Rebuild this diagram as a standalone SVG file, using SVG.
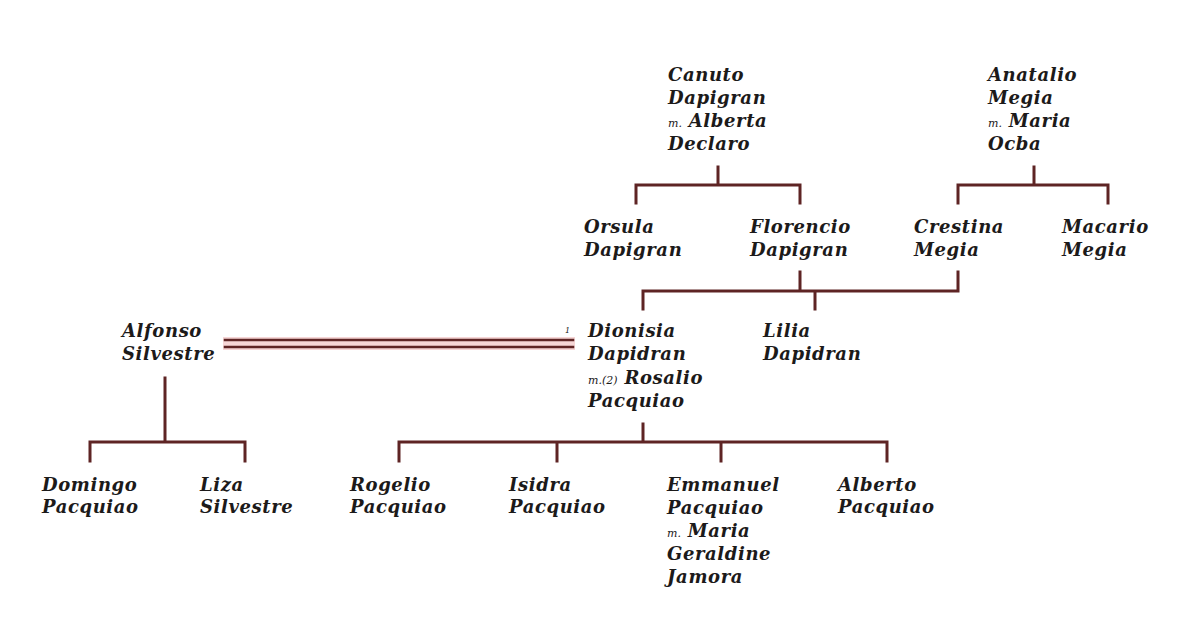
<svg xmlns="http://www.w3.org/2000/svg" width="1196" height="628" viewBox="0 0 1196 628">
<style>
.t{font-family:"DejaVu Serif","Liberation Serif",serif;font-style:italic;font-weight:bold;font-size:18px;letter-spacing:0.6px;fill:#1c1a1a}
.s{font-size:11px;font-weight:normal;letter-spacing:0}
.c{fill:none;stroke:#5e2424;stroke-width:3;stroke-linecap:square}
</style>
<rect width="1196" height="628" fill="#ffffff"/>
<g id="connectors">
<path class="c" d="M718,167V185M636,203V185H800V203"/>
<path class="c" d="M1034,167V185M958,203V185H1108V203"/>
<path class="c" d="M800,272V291M958,272V291M643,309V291H958M815,291V309"/>
<rect x="223" y="337" width="352" height="13" fill="#f6d6d6"/>
<path class="c" d="M225,340H573M225,347H573" style="stroke-width:2.5"/>
<path class="c" d="M165,378V442M90,461V442H245V461"/>
<path class="c" d="M643,424V442M399,461V442H887V461M557,442V461M721,442V461"/>
</g>
<g id="canuto"><text class="t" x="668" y="81">Canuto</text><text class="t" x="668" y="104">Dapigran</text><text class="t" x="668" y="127"><tspan class="s">m.</tspan> Alberta</text><text class="t" x="668" y="150">Declaro</text></g>
<g id="anatalio"><text class="t" x="988" y="81">Anatalio</text><text class="t" x="988" y="104">Megia</text><text class="t" x="988" y="127"><tspan class="s">m.</tspan> Maria</text><text class="t" x="988" y="150">Ocba</text></g>
<g id="orsula"><text class="t" x="584" y="233">Orsula</text><text class="t" x="584" y="256">Dapigran</text></g>
<g id="florencio"><text class="t" x="750" y="233">Florencio</text><text class="t" x="750" y="256">Dapigran</text></g>
<g id="crestina"><text class="t" x="914" y="233">Crestina</text><text class="t" x="914" y="256">Megia</text></g>
<g id="macario"><text class="t" x="1062" y="233">Macario</text><text class="t" x="1062" y="256">Megia</text></g>
<g id="alfonso"><text class="t" x="122" y="337">Alfonso</text><text class="t" x="122" y="360">Silvestre</text></g>
<g id="dionisia"><text class="t s" x="565" y="333" style="font-size:8px">1</text><text class="t" x="588" y="337">Dionisia</text><text class="t" x="588" y="360">Dapidran</text><text class="t" x="588" y="384"><tspan class="s">m.(2)</tspan> Rosalio</text><text class="t" x="588" y="407">Pacquiao</text></g>
<g id="lilia"><text class="t" x="763" y="337">Lilia</text><text class="t" x="763" y="360">Dapidran</text></g>
<g id="domingo"><text class="t" x="42" y="491">Domingo</text><text class="t" x="42" y="513">Pacquiao</text></g>
<g id="liza"><text class="t" x="200" y="491">Liza</text><text class="t" x="200" y="513">Silvestre</text></g>
<g id="rogelio"><text class="t" x="350" y="491">Rogelio</text><text class="t" x="350" y="513">Pacquiao</text></g>
<g id="isidra"><text class="t" x="509" y="491">Isidra</text><text class="t" x="509" y="513">Pacquiao</text></g>
<g id="emmanuel"><text class="t" x="667" y="491">Emmanuel</text><text class="t" x="667" y="514">Pacquiao</text><text class="t" x="667" y="537"><tspan class="s">m.</tspan> Maria</text><text class="t" x="667" y="560">Geraldine</text><text class="t" x="667" y="583">Jamora</text></g>
<g id="alberto"><text class="t" x="838" y="491">Alberto</text><text class="t" x="838" y="513">Pacquiao</text></g>
</svg>
